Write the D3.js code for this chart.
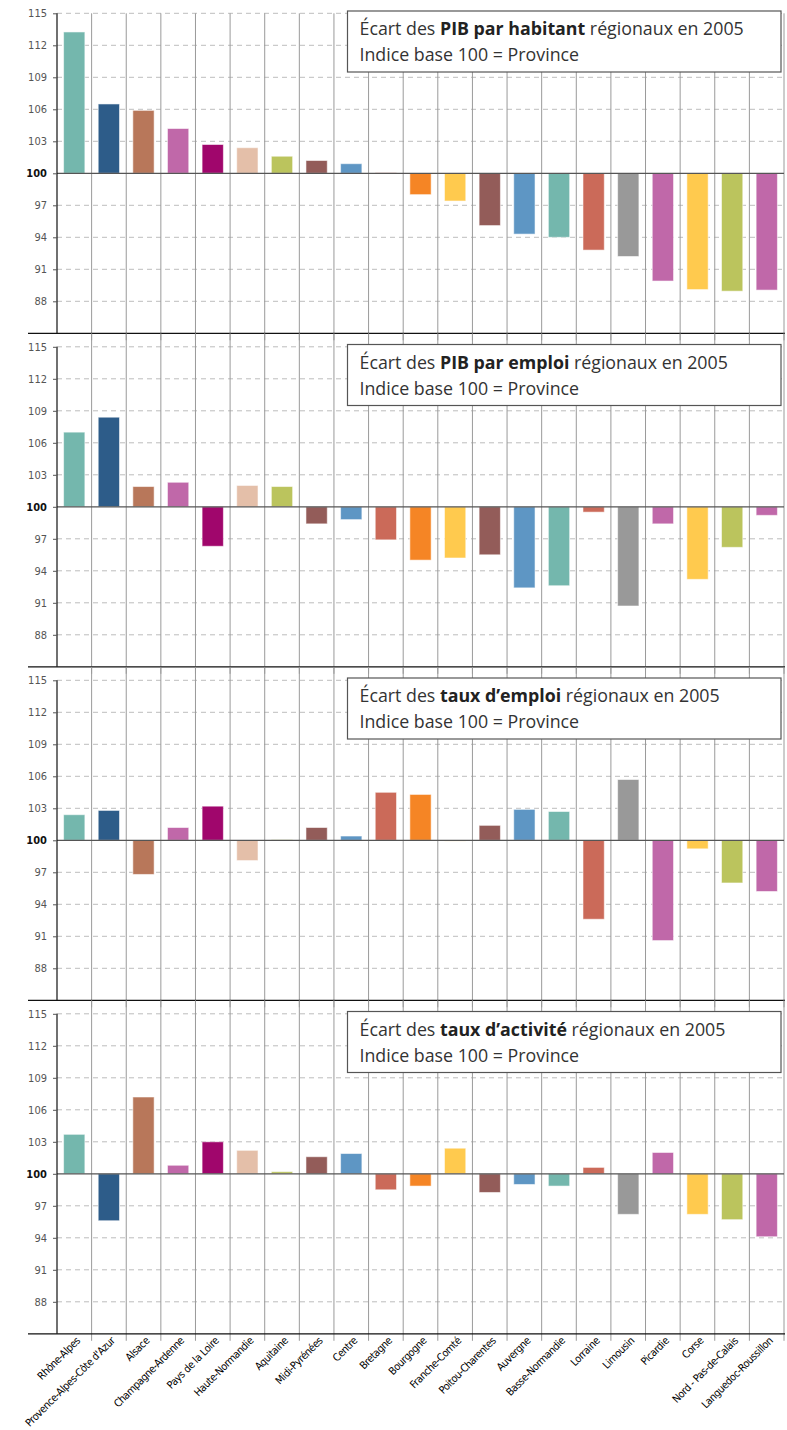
<!DOCTYPE html>
<html>
<head>
<meta charset="utf-8">
<script src="https://cdn.jsdelivr.net/npm/d3@7"></script>
<style>
  body { margin: 0; background: #fff; }
  svg { display: block; }
</style>
</head>
<body>
<script>
// data
var regions = ["Rhône-Alpes", "Provence-Alpes-Côte d'Azur", "Alsace", "Champagne-Ardenne",
  "Pays de la Loire", "Haute-Normandie", "Aquitaine", "Midi-Pyrénées", "Centre", "Bretagne",
  "Bourgogne", "Franche-Comté", "Poitou-Charentes", "Auvergne", "Basse-Normandie", "Lorraine",
  "Limousin", "Picardie", "Corse", "Nord - Pas-de-Calais", "Languedoc-Roussillon"];

var pibHabitant = [113.25, 106.5, 105.9, 104.2, 102.7, 102.4, 101.6, 101.2, 100.9, 100.05,
  98.0, 97.4, 95.1, 94.3, 94.0, 92.8, 92.2, 89.9, 89.1, 88.95, 89.05];
var pibEmploi = [107.0, 108.4, 101.9, 102.3, 96.3, 102.0, 101.9, 98.4, 98.8, 96.9,
  95.0, 95.2, 95.5, 92.4, 92.6, 99.5, 90.7, 98.4, 93.2, 96.2, 99.2];
var tauxEmploi = [102.4, 102.8, 96.8, 101.2, 103.2, 98.1, 100.05, 101.2, 100.4, 104.5,
  104.3, 100.0, 101.4, 102.9, 102.7, 92.6, 105.7, 90.6, 99.2, 96.0, 95.2];
var tauxActivite = [103.7, 95.6, 107.2, 100.8, 103.0, 102.2, 100.2, 101.6, 101.9, 98.5,
  98.85, 102.4, 98.25, 99.0, 98.85, 100.6, 96.2, 102.0, 96.2, 95.7, 94.1];

var titlesBold = ["PIB par habitant", "PIB par emploi", "taux d’emploi", "taux d’activité"];
var yTicks = [88, 91, 94, 97, 100, 103, 106, 109, 112, 115];

var regionColors = ["#74b7ad", "#2d5c89", "#b8775a", "#c068a9", "#a0066c", "#e4bfa9",
  "#bbc45d", "#935c59", "#5e96c4", "#cb6a59", "#f58525", "#ffca4e", "#935c59", "#5e96c4",
  "#74b7ad", "#cb6a59", "#999999", "#c068a9", "#ffca4e", "#bbc45d", "#c068a9"];

var series = [pibHabitant, pibEmploi, tauxEmploi, tauxActivite];

// layout
var svgWidth = 787, svgHeight = 1430;
var left = 57, right = 784;
var panelTop = 13.3, panelStep = 333.5, panelHeight = 320;

var svg = d3.select("body").append("svg")
  .attr("width", svgWidth)
  .attr("height", svgHeight);

var x = d3.scaleBand()
  .domain(regions)
  .range([left, right])
  .paddingInner(0.385)
  .paddingOuter(0.19);

var step = (right - left) / regions.length;
var condensed = "'DejaVu Sans Condensed', 'Liberation Sans Narrow', sans-serif";

series.forEach(function(values, i) {
  var top = panelTop + i * panelStep;
  var bottom = top + panelHeight;
  var y = d3.scaleLinear().domain([85, 115]).range([bottom, top]);
  var g = svg.append("g");

  // dashed grid
  g.selectAll(".grid").data(yTicks.filter(d => d !== 100)).enter()
    .append("line")
    .attr("x1", left).attr("x2", right)
    .attr("y1", d => y(d)).attr("y2", d => y(d))
    .attr("stroke", "#bdbdbd")
    .attr("stroke-dasharray", "5,4")
    .attr("stroke-width", 1);

  // column separators
  g.selectAll(".sep").data(d3.range(1, regions.length + 1)).enter()
    .append("line")
    .attr("x1", d => left + d * step).attr("x2", d => left + d * step)
    .attr("y1", i === 0 ? top : top - 13.5)
    .attr("y2", bottom + 7)
    .attr("stroke", "#9a9a9a")
    .attr("stroke-width", 1);

  // bars
  g.selectAll(".bar").data(values).enter()
    .append("rect")
    .attr("x", (d, j) => x(regions[j]))
    .attr("width", x.bandwidth())
    .attr("y", d => y(Math.max(d, 100)))
    .attr("height", d => Math.max(0.8, Math.abs(y(d) - y(100))))
    .attr("fill", (d, j) => regionColors[j])
    .attr("stroke", "#fff")
    .attr("stroke-opacity", 0.55)
    .attr("stroke-width", 1);

  // base 100 line
  g.append("line")
    .attr("x1", left).attr("x2", right)
    .attr("y1", y(100)).attr("y2", y(100))
    .attr("stroke", "#555")
    .attr("stroke-width", 1.2);

  // bottom line
  g.append("line")
    .attr("x1", 28).attr("x2", right + 1)
    .attr("y1", bottom).attr("y2", bottom)
    .attr("stroke", "#111")
    .attr("stroke-width", 1.3);

  // y axis
  var yAxis = g.append("g")
    .attr("transform", "translate(" + left + ",0)")
    .call(d3.axisLeft(y).tickValues(yTicks).tickSize(4).tickPadding(6).tickSizeOuter(0));
  yAxis.select(".domain").attr("d", "M0," + top + "V" + bottom).attr("stroke", "#111").attr("stroke-width", 1.2);
  yAxis.selectAll(".tick line").attr("stroke", "#555");
  yAxis.selectAll("text")
    .attr("font-family", condensed)
    .attr("font-size", 11)
    .attr("fill", d => d === 100 ? "#111" : "#555")
    .attr("font-weight", d => d === 100 ? "bold" : "normal");

  // title box
  var box = g.append("g").attr("transform", "translate(347.5," + (top - 2.3) + ")");
  box.append("rect")
    .attr("width", 433.5).attr("height", 61)
    .attr("fill", "#fff")
    .attr("stroke", "#555")
    .attr("stroke-width", 1.2);
  var t1 = box.append("text")
    .attr("x", 12).attr("y", 24)
    .attr("font-family", "'Open Sans', sans-serif")
    .attr("font-size", 17.8)
    .attr("fill", "#333");
  t1.append("tspan").text("Écart des ");
  t1.append("tspan").attr("font-weight", "bold").attr("fill", "#222").text(titlesBold[i]);
  t1.append("tspan").text(" régionaux en 2005");
  box.append("text")
    .attr("x", 12).attr("y", 50)
    .attr("font-family", "'Open Sans', sans-serif")
    .attr("font-size", 17.8)
    .attr("fill", "#333")
    .text("Indice base 100 = Province");

  // region labels under last panel
  if (i === series.length - 1) {
    var xAxis = g.append("g")
      .attr("transform", "translate(0," + bottom + ")")
      .call(d3.axisBottom(x).tickSize(0).tickPadding(0));
    xAxis.select(".domain").remove();
    xAxis.selectAll("text")
      .attr("font-family", condensed)
      .attr("font-size", 10.6)
      .attr("letter-spacing", -0.4)
      .attr("fill", "#000")
      .attr("text-anchor", "end")
      .attr("transform", "translate(4,5) rotate(-45)")
      .attr("dy", "0.35em");
  }
});
</script>
</body>
</html>
